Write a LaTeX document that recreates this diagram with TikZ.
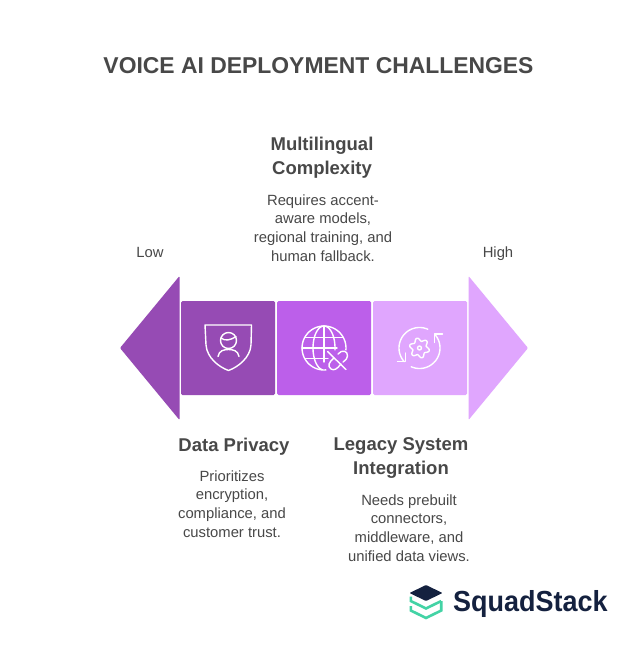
\documentclass[tikz,border=0pt]{standalone}
\usepackage{fontspec}
\setmainfont{Liberation Sans}
\definecolor{txt}{HTML}{484848}
\definecolor{pA}{HTML}{964BB4}
\definecolor{pB}{HTML}{BC5FEA}
\definecolor{pC}{HTML}{E0A6FE}
\definecolor{navy}{HTML}{14213F}
\definecolor{mint}{HTML}{43D3A5}
\tikzset{
  head/.style={font=\bfseries\fontsize{18.5}{24.5}\selectfont,text=txt,align=center,inner sep=0},
  body/.style={font=\fontsize{14.8}{18.6}\selectfont,text=txt,align=center,inner sep=0},
  seg/.style={rounded corners=1.5pt},
  ico/.style={draw=white,line width=1.4pt,line cap=round,line join=round}
}
\begin{document}
\begin{tikzpicture}[x=1pt,y=-1pt]
\useasboundingbox (0,0) rectangle (637,668);
\fill[white] (0,0) rectangle (637,668);
\node[head,font=\bfseries\fontsize{22.9}{28}\selectfont] (title) at (318.5,66) {VOICE AI DEPLOYMENT CHALLENGES};
\node[head] (h2) at (322,157.5) {Multilingual\\Complexity};
\node[body] (b2) at (323,228) {Requires accent-\\aware models,\\regional training, and\\human fallback.};
\node[body] (low) at (150,252) {Low};
\node[body] (high) at (498,253.5) {High};
\node[head] (h1) at (234,447) {Data Privacy};
\node[body] (b1) at (232,504) {Prioritizes\\encryption,\\compliance, and\\customer trust.};
\node[head] (h3) at (401,458) {Legacy System\\Integration};
\node[body] (b3) at (409,528) {Needs prebuilt\\connectors,\\middleware, and\\unified data views.};
% arrows
\fill[pA,rounded corners=1pt] (179.5,276) -- (120,348) -- (179.5,420) -- cycle;
\fill[pC,rounded corners=1pt] (468.5,276) -- (528,348) -- (468.5,420) -- cycle;
\fill[pA,seg] (181,301) rectangle (275,395);
\fill[pB,seg] (277,301) rectangle (371,395);
\fill[pC,seg] (373,301) rectangle (467,395);
% shield
\draw[ico] (205,325) -- (251.5,325) -- (251,345) .. controls (250,358) and (238,367) .. (228.5,370.5) .. controls (219,367) and (207,358) .. (206,345) -- cycle;
\draw[ico] (228.5,340.5) circle (8);
\draw[ico] (221,338) .. controls (225,341.5) and (231,340) .. (236,336.5);
\draw[ico] (218,356.5) .. controls (219,350.5) and (224,349.5) .. (228.5,349.5) .. controls (233,349.5) and (238,350.5) .. (239,356.5);
% globe
\draw[ico] plot[smooth,samples=40,domain=-5:275] ({324+22*cos(\x)},{348-22*sin(\x)});
\draw[ico] (324,326) -- (324,362);
\draw[ico] plot[smooth,samples=30,domain=90:260] ({324+11*cos(\x)},{348-22*sin(\x)});
\draw[ico] plot[smooth,samples=20,domain=90:-5] ({324+11*cos(\x)},{348-22*sin(\x)});
\draw[ico] (305,337.5) -- (343,337.5);
\draw[ico] (302,348) -- (337,348);
\draw[ico] (305,358.5) -- (328,358.5);
% link
\draw[ico] (327.5,351.5) -- (346,369.5);
\draw[ico] (338,354) .. controls (342,349) and (348,351) .. (347.5,356) .. controls (347.5,358) and (346,360) .. (343,362);
\draw[ico] (334,358) .. controls (329,362) and (327,366) .. (331,369) .. controls (334,371) and (337,369) .. (341,364);
% cycle gear
\draw[ico] plot[smooth,samples=40,domain=66:222] ({419.5+20.5*cos(\x)},{348-20.5*sin(\x)});
\draw[ico] (397.5,361.5) -- (405.5,361.5) -- (405.5,353);
\draw[ico] plot[smooth,samples=40,domain=246:402] ({419.5+20.5*cos(\x)},{348-20.5*sin(\x)});
\draw[ico] (442.5,334) -- (434.5,334) -- (434.5,342.5);
\draw[ico] plot[smooth,samples=90,domain=0:360] ({419.5+(8.5+1.6*cos(6*\x+90))*cos(\x)},{348-(8.5+1.6*cos(6*\x+90))*sin(\x)});
\draw[ico] (419.5,348) circle (2);
% logo
\fill[navy,rounded corners=0.8pt] (426,585) -- (442.5,593) -- (426,601) -- (409.5,593) -- cycle;
\draw[mint,line width=2.6pt,line join=miter] (410.8,596.5) -- (410.8,601) -- (426,608.5) -- (441.2,601);
\draw[mint,line width=2.6pt,line join=miter] (441.2,601) -- (441.2,610.5) -- (426,618) -- (410.8,610.5) -- (410.8,606);
\node[inner sep=0,anchor=west,text=navy,font=\bfseries\fontsize{29}{30}\selectfont] (logo) at (453,603.5) {\scalebox{0.93}[1]{SquadStack}};
\end{tikzpicture}
\end{document}
